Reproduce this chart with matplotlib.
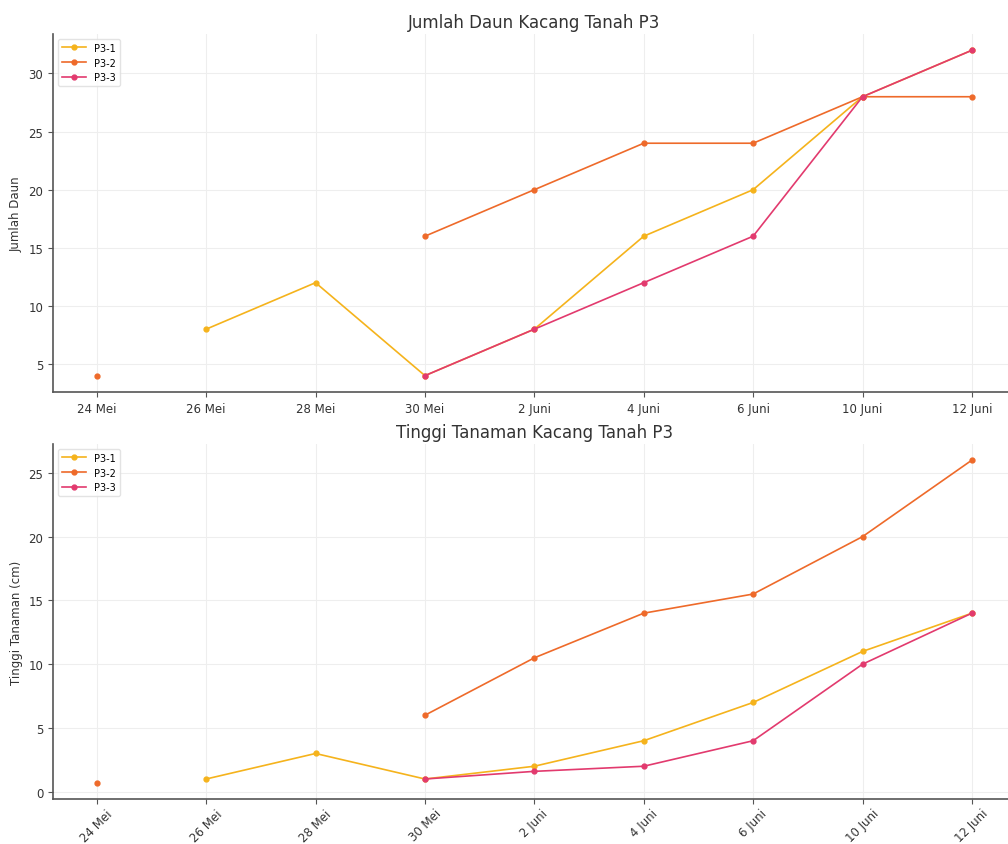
import numpy as np
import matplotlib
matplotlib.use('Agg')
import matplotlib.pyplot as plt

# Data
tanggal = ['24 Mei', '26 Mei', '28 Mei', '30 Mei', '2 Juni', '4 Juni', '6 Juni', '10 Juni', '12 Juni']
nan = np.nan

daun_p31 = [nan, 8, 12, 4, 8, 16, 20, 28, 32]
daun_p32 = [4, nan, nan, 16, 20, 24, 24, 28, 28]
daun_p33 = [nan, nan, nan, 4, 8, 12, 16, 28, 32]

tinggi_p31 = [nan, 1, 3, 1, 2, 4, 7, 11, 14]
tinggi_p32 = [0.7, nan, nan, 6, 10.5, 14, 15.5, 20, 26]
tinggi_p33 = [nan, nan, nan, 1, 1.6, 2, 4, 10, 14]

labels = ['P3-1', 'P3-2', 'P3-3']
warna = ['#f5b31c', '#ee6a2a', '#e23a6e']

plt.rcParams['font.family'] = 'DejaVu Sans'

fig = plt.figure(figsize=(10.08, 8.45), dpi=100)
ax1 = fig.add_axes([0.0526, 0.535, 0.955, 0.4236])
ax2 = fig.add_axes([0.0526, 0.0533, 0.955, 0.4201])

def gambar(ax, series, judul, ylabel, rot):
    x = np.arange(len(tanggal))
    for data, lab, c in zip(series, labels, warna):
        ax.plot(x, data, marker='o', markersize=3.5, linewidth=1.2, color=c, label=lab)
    ax.set_xticks(x)
    ax.set_xticklabels(tanggal, rotation=rot, fontsize=8.5, color='#333333')
    ax.tick_params(axis='y', labelsize=8.5, labelcolor='#333333', color='#555555')
    ax.tick_params(axis='x', color='#555555', pad=2 if rot else 3.5)
    ax.set_title(judul, fontsize=12, color='#333333', pad=5)
    ax.set_ylabel(ylabel, fontsize=8.5, color='#333333')
    ax.grid(True, color='#eeeeee', linewidth=0.8)
    ax.set_axisbelow(True)
    for s in ['top', 'right']:
        ax.spines[s].set_visible(False)
    for s in ['left', 'bottom']:
        ax.spines[s].set_color('#555555')
        ax.spines[s].set_linewidth(1.2)
    ax.legend(loc='upper left', fontsize=7, frameon=True, edgecolor='#dddddd',
              handlelength=2.5)

gambar(ax1, [daun_p31, daun_p32, daun_p33], 'Jumlah Daun Kacang Tanah P3', 'Jumlah Daun', 0)
gambar(ax2, [tinggi_p31, tinggi_p32, tinggi_p33], 'Tinggi Tanaman Kacang Tanah P3', 'Tinggi Tanaman (cm)', 45)

fig.savefig('out.png', dpi=100)
